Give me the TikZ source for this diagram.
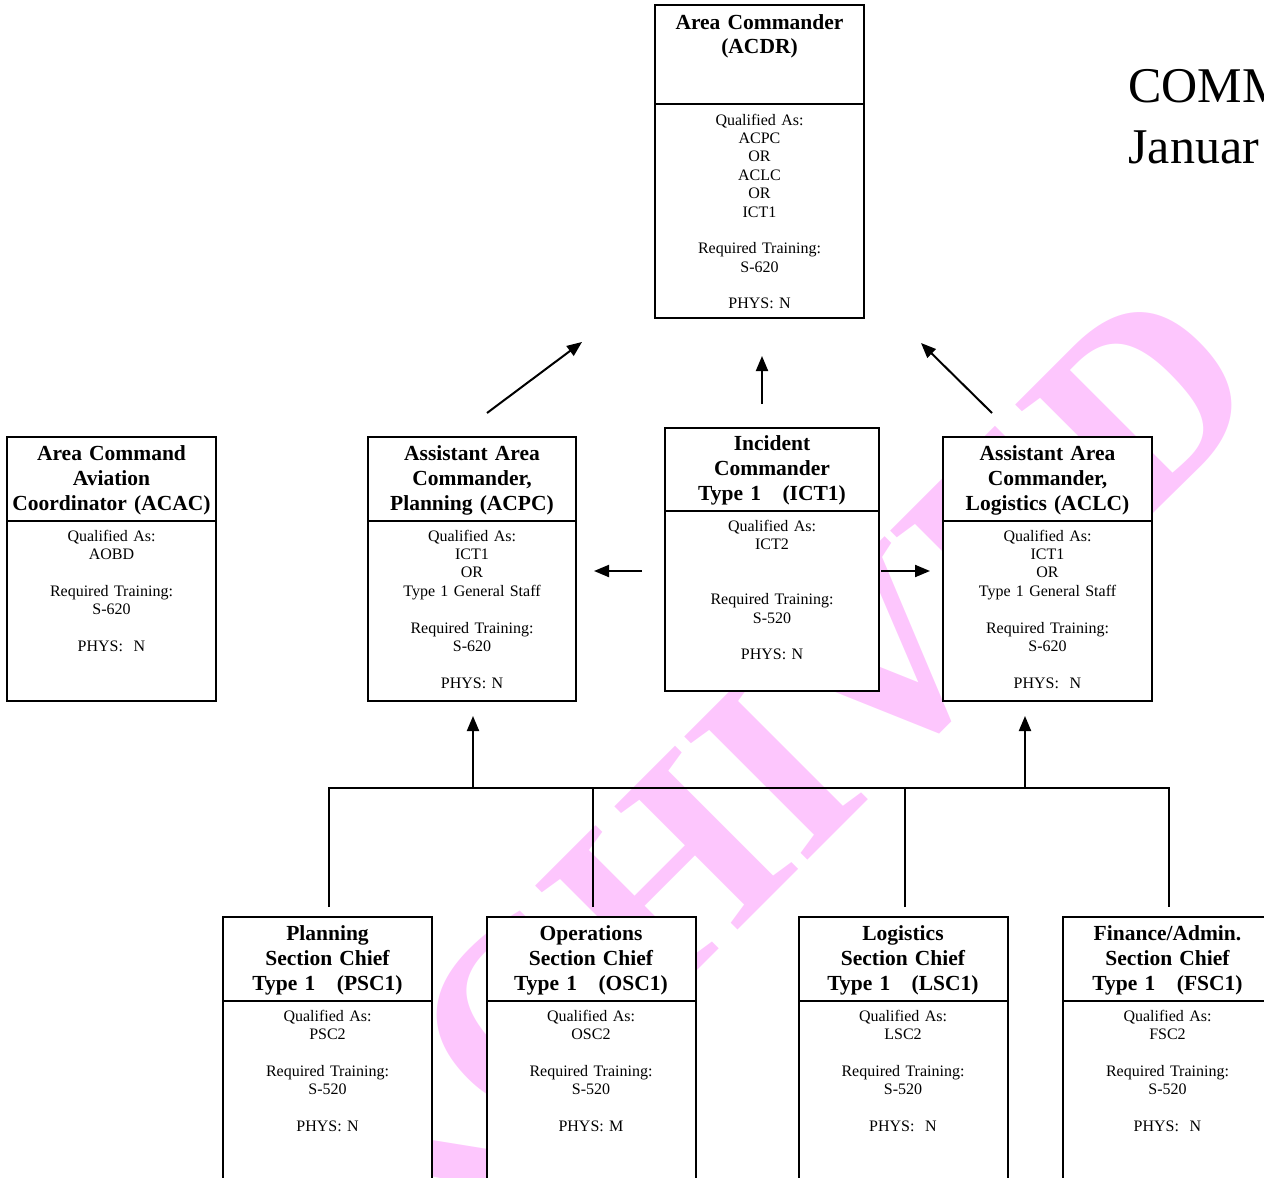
\documentclass[tikz,border=0pt]{standalone}
\usepackage{fontspec}
\setmainfont{Liberation Serif}
\usepackage{tikz}
\usetikzlibrary{positioning,calc,arrows.meta}

\definecolor{wmpink}{RGB}{253,198,253}
\newcommand\hdfont{\fontsize{10.75pt}{12.5pt}\selectfont\bfseries}
\newcommand\bdfont{\fontsize{8pt}{9.2pt}\selectfont}
\newcommand\wmfont{\fontsize{133pt}{133pt}\selectfont\bfseries}

\tikzset{
  hd/.style={draw, line width=1pt, fill=white, inner sep=0pt, outer sep=0pt, anchor=north,
    align=center, font=\hdfont, text width=104.5pt, text height=11.5pt, text depth=30.5pt},
  bd/.style={draw, line width=1pt, fill=white, inner sep=0pt, outer sep=0pt, anchor=north,
    align=center, font=\bdfont, text width=104.5pt, text height=10pt, text depth=80pt},
  ln/.style={line width=1pt},
  arr/.style={line width=1pt, -{Triangle[length=7.5pt,width=6pt]}},
  wm/.style={text=wmpink, font=\wmfont, inner sep=0pt},
}

\begin{document}
\begin{tikzpicture}[x=0.5pt, y=-0.5pt]
    \useasboundingbox (0,0) rectangle (1264,1178);

    % watermark behind everything
    \node[wm, rotate=45] (wmark) at (699,847) {ARCHIVED};

    % heading, cut by the page edge
    \node[anchor=base west, inner sep=0pt, font=\fontsize{25pt}{30pt}\selectfont] (hdr1) at (1128,102) {COMM};
    \node[anchor=base west, inner sep=0pt, font=\fontsize{25pt}{30pt}\selectfont] (hdr2) at (1128,163) {Januar};

    % Area Commander
    \node[hd, text height=12pt, text depth=37.5pt] (acdr) at (759.5,5) {Area Commander\\(ACDR)};
    \node[bd, text height=10.5pt, text depth=96.5pt] (acdr-b) at (acdr.south) {Qualified As:\\ACPC\\OR\\ACLC\\OR\\ICT1\\[9.2pt]Required Training:\\S-620\\[9.2pt]PHYS: N};

    % middle row
    \node[hd] (acac) at (111.5,437) {Area Command\\Aviation\\Coordinator (ACAC)};
    \node[bd] (acac-b) at (acac.south) {Qualified As:\\AOBD\\[9.2pt]Required Training:\\S-620\\[9.2pt]PHYS:~~N};

    \node[hd, text width=104pt] (acpc) at (472,437) {Assistant Area\\Commander,\\Planning (ACPC)};
    \node[bd, text width=104pt] (acpc-b) at (acpc.south) {Qualified As:\\ICT1\\OR\\Type 1 General Staff\\[9.2pt]Required Training:\\S-620\\[9.2pt]PHYS: N};

    \node[hd, text width=107pt, text height=11pt] (ict) at (772,428) {Incident\\Commander\\Type 1~~~(ICT1)};
    \node[bd, text width=107pt] (ict-b) at (ict.south) {Qualified As:\\ICT2\\[18.4pt]Required Training:\\S-520\\[9.2pt]PHYS: N};

    \node[hd] (aclc) at (1047.5,437) {Assistant Area\\Commander,\\Logistics (ACLC)};
    \node[bd] (aclc-b) at (aclc.south) {Qualified As:\\ICT1\\OR\\Type 1 General Staff\\[9.2pt]Required Training:\\S-620\\[9.2pt]PHYS:~~N};

    % section chiefs
    \foreach \nm/\cx/\ttl/\code/\ph in {psc/327.5/Planning/PSC/PHYS: N, osc/591/Operations/OSC/PHYS: M,
        lsc/903/Logistics/LSC/PHYS:~~N, fsc/1167.5/{Finance/Admin.}/FSC/PHYS:~~N} {
        \node[hd] (\nm) at (\cx,917) {\ttl\\Section Chief\\Type 1~~~(\code1)};
        \node[bd, text depth=100pt] (\nm-b) at (\nm.south) {Qualified As:\\\code2\\[9.2pt]Required Training:\\S-520\\[9.2pt]\ph};
    }

    % arrows up to the Area Commander
    \draw[arr] ($(acpc.north)+(15,-24)$) -- ($(acdr-b.south west)+(-73,24)$);
    \draw[arr] ($(ict.north)+(-10,-24)$) coordinate (ict-up) -- ([yshift=-19pt]ict-up |- acdr-b.south);
    \draw[arr] ($(aclc.north)+(-55.5,-24)$) -- ($(acdr-b.south east)+(57,25)$);

    % arrows out of the Incident Commander
    \draw[arr] ($(ict-b.north west)+(-23,60)$) coordinate (ict-l) -- ([xshift=9pt]ict-l -| acpc-b.east);
    \draw[arr] ($(ict-b.north east)+(2,60)$) coordinate (ict-r) -- ([xshift=-6.5pt]ict-r -| aclc-b.west);

    % bus over the section chiefs
    \draw[ln] ([xshift=0.75pt,yshift=5pt]psc.north) -- ++(0,-119) coordinate (bus) -| ([xshift=0.75pt,yshift=5pt]fsc.north);
    \foreach \nm in {osc, lsc} {
        \draw[ln] ([xshift=1pt,yshift=5pt]\nm.north) -- ([xshift=1pt]\nm.north |- bus);
    }
    \draw[arr] ([xshift=0.5pt]bus -| acpc-b.south) -- ([xshift=0.5pt,yshift=-7.5pt]acpc-b.south);
    \draw[arr] ([xshift=-11.25pt]bus -| aclc-b.south) -- ([xshift=-11.25pt,yshift=-7.5pt]aclc-b.south);
\end{tikzpicture}
\end{document}
